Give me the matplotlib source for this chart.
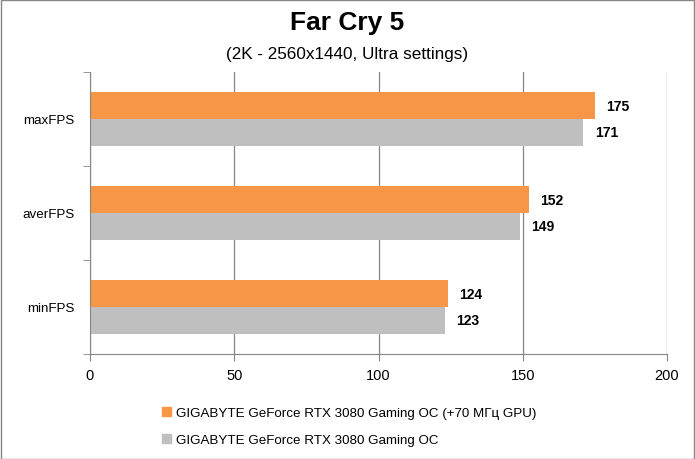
import matplotlib
matplotlib.use('Agg')
import matplotlib.pyplot as plt
from matplotlib.patches import Patch, Rectangle

plt.rcParams['font.family'] = ['Liberation Sans Narrow', 'Liberation Sans', 'DejaVu Sans']

# Data
categories = ['maxFPS', 'averFPS', 'minFPS']
oc_values = [175, 152, 124]
stock_values = [171, 149, 123]
series_names = ['GIGABYTE GeForce RTX 3080 Gaming OC (+70 МГц GPU)',
                'GIGABYTE GeForce RTX 3080 Gaming OC']
x_ticks = [0, 50, 100, 150, 200]

orange = '#F79646'
gray = '#BFBFBF'
line_gray = '#868686'

fig = plt.figure(figsize=(6.95, 4.6), dpi=100)
ax = fig.add_axes([90 / 695, 1 - 355 / 460, 577 / 695, 282 / 460])

n = len(categories)
pos = [n - 1 - i for i in range(n)]
h = 0.287
ax.barh([p + h / 2 for p in pos], oc_values, height=h, color=orange, zorder=2)
ax.barh([p - h / 2 for p in pos], stock_values, height=h, color=gray, zorder=2)

for p, v in zip(pos, oc_values):
    ax.text(v + 4, p + h / 2, str(v), va='center', ha='left',
            fontsize=10, fontweight='bold')
for p, v in zip(pos, stock_values):
    ax.text(v + 4, p - h / 2, str(v), va='center', ha='left',
            fontsize=10, fontweight='bold')

ax.set_xlim(0, 200)
ax.set_ylim(-0.5, n - 0.5)
ax.set_xticks(x_ticks)
ax.set_xticklabels([str(t) for t in x_ticks], fontsize=10.5)
ax.set_yticks(pos)
ax.set_yticklabels(categories, fontsize=9.6)
ax.set_yticks([p - 0.5 for p in pos] + [n - 0.5], minor=True)
ax.tick_params(axis='y', which='major', length=0, pad=11)
ax.tick_params(axis='y', which='minor', length=5, color=line_gray)
ax.tick_params(axis='x', length=5, color=line_gray, pad=5)

ax.grid(axis='x', color=line_gray, linewidth=0.9, zorder=0)
for s in ['top', 'right']:
    ax.spines[s].set_visible(False)
for s in ['left', 'bottom']:
    ax.spines[s].set_color(line_gray)

fig.text(0.5, 1 - 23 / 460, 'Far Cry 5', ha='center', va='center',
         fontsize=19, fontweight='bold')
fig.text(0.5, 1 - 54 / 460, '(2K - 2560x1440, Ultra settings)', ha='center',
         va='center', fontsize=12.3)

handles = [Patch(color=orange), Patch(color=gray)]
fig.legend(handles, series_names, loc='upper left',
           bbox_to_anchor=(150 / 695, 1 - 396 / 460), frameon=False,
           fontsize=9.6, handlelength=0.7, handleheight=0.7,
           handletextpad=0.35, labelspacing=1.1)

fig.patches.append(Rectangle((0.5 / 695, 0.5 / 460), 693.5 / 695, 458.5 / 460,
                             transform=fig.transFigure, fill=False,
                             edgecolor=line_gray, linewidth=1))

fig.savefig('out.png', dpi=100)
